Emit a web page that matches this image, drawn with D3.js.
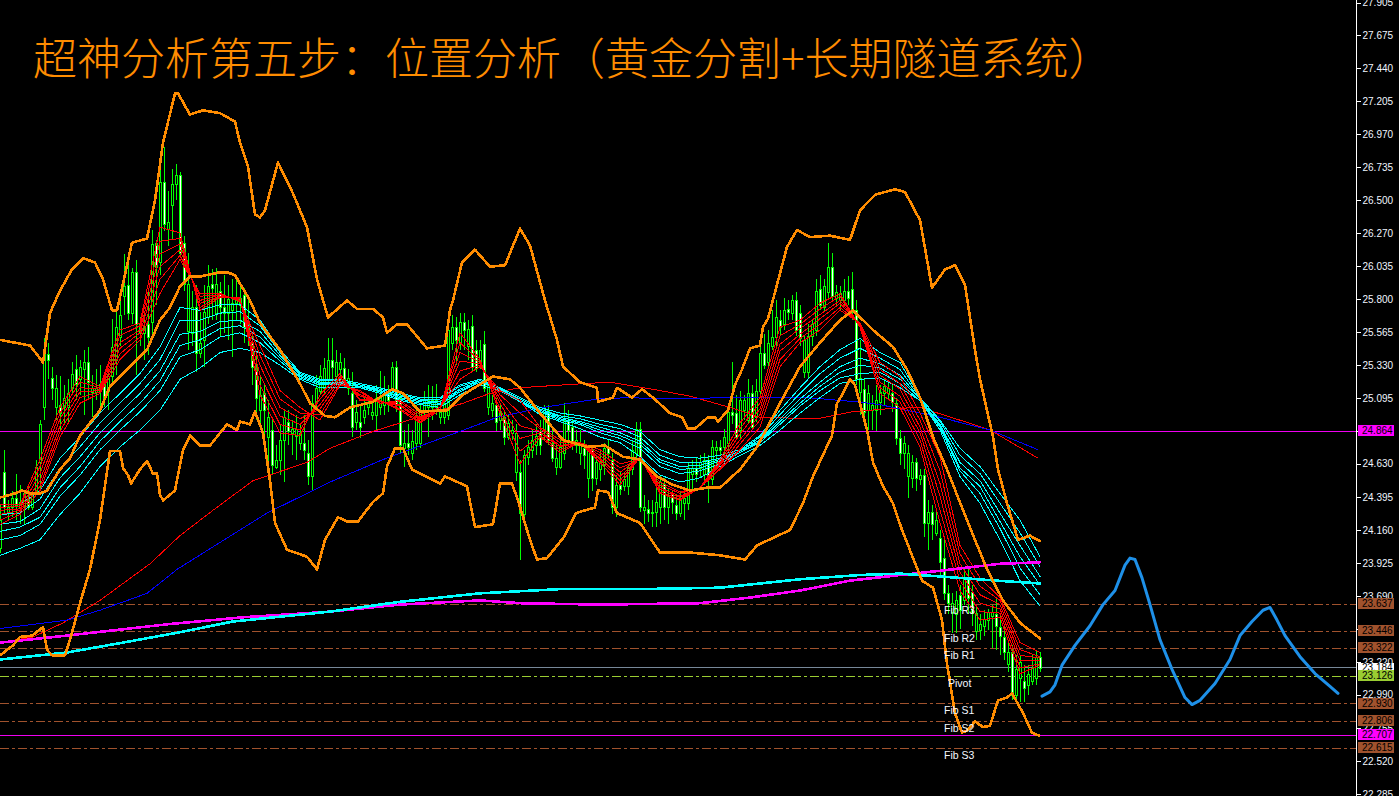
<!DOCTYPE html>
<html><head><meta charset="utf-8">
<script src="https://cdn.jsdelivr.net/npm/d3@7"></script>
<style>html,body{margin:0;padding:0;background:#000;overflow:hidden}svg{display:block}</style>
</head><body><svg id="c" width="1399" height="796"></svg>
<script>
const titleText="超神分析第五步：位置分析（黄金分割+长期隧道系统）";
const opens=[24.03,24.57,24.28,24.32,24.39,24.32,24.32,24.37,24.32,24.44,
24.64,25.03,25.41,25.24,25.03,25.05,25.03,25.03,25.17,25.30,
25.23,25.30,25.35,25.14,25.14,25.15,25.20,25.15,25.25,25.37,
25.53,25.82,25.90,25.70,25.99,25.63,25.56,25.62,25.64,26.20,
26.06,26.63,26.30,26.47,26.62,26.68,26.20,25.57,25.56,25.74,
25.42,25.51,25.67,25.91,25.70,25.86,25.74,25.70,25.72,25.77,
25.76,25.83,25.58,25.49,25.32,25.01,25.13,24.82,24.87,24.61,
24.66,24.80,24.93,24.85,24.83,24.78,24.78,24.71,24.54,25.06,
25.15,25.17,25.23,25.37,25.25,25.30,25.31,25.17,25.13,24.93,
24.93,24.96,25.03,24.98,24.98,25.03,25.05,25.14,25.17,25.32,
25.10,24.74,24.78,24.71,24.78,24.78,25.01,25.03,25.03,25.03,
24.96,24.96,24.98,25.49,25.60,25.49,25.64,25.47,25.61,25.44,
25.35,25.48,25.03,25.01,25.05,24.94,24.96,24.82,24.85,24.57,
24.57,24.27,24.68,24.73,24.76,24.86,24.86,25.01,24.78,24.61,
24.61,24.71,24.94,24.89,24.76,24.71,24.74,24.53,24.73,24.53,
24.59,24.62,24.75,24.66,24.32,24.48,24.47,24.47,24.59,24.71,
24.88,24.30,24.31,24.29,24.29,24.32,24.49,24.32,24.42,24.34,
24.28,24.35,24.35,24.56,24.60,24.60,24.56,24.66,24.52,24.73,
24.75,24.75,24.78,25.00,24.99,24.87,25.01,24.94,25.13,24.96,
25.15,25.42,25.35,25.47,25.53,25.65,25.62,25.73,25.70,25.79,
25.70,25.28,25.28,25.54,25.58,25.87,25.74,25.85,26.03,25.81,
25.79,25.79,25.86,25.87,25.72,25.14,25.16,25.01,25.01,25.01,
25.07,25.13,25.13,25.13,25.06,24.81,24.71,24.54,24.53,24.64,
24.52,24.55,24.21,24.29,24.14,24.10,23.96,23.71,23.58,23.56,
23.70,23.66,23.82,23.72,23.44,23.45,23.48,23.52,23.55,23.56,
23.47,23.40,23.21,23.29,22.99,23.11,23.09,23.06,23.09,23.11,23.26];
const highs=[24.34,24.73,24.37,24.44,24.56,24.48,24.44,24.48,24.44,24.66,
24.94,25.52,25.49,25.32,25.26,25.25,25.19,25.23,25.35,25.40,
25.37,25.44,25.46,25.26,25.30,25.33,25.26,25.30,25.66,25.72,
25.79,26.12,26.04,26.02,26.08,25.67,25.69,25.86,26.29,26.22,
26.75,26.88,26.57,26.72,26.76,26.70,26.25,26.13,25.86,25.90,
25.71,25.90,26.04,26.01,26.02,25.92,25.97,25.90,25.94,25.97,
25.90,25.88,25.79,25.56,25.40,25.26,25.19,25.08,24.94,24.76,
24.91,25.01,25.01,24.94,24.98,24.91,24.98,24.80,25.12,25.26,
25.33,25.38,25.52,25.52,25.44,25.42,25.38,25.30,25.28,25.08,
25.05,25.10,25.12,25.08,25.19,25.29,25.25,25.19,25.35,25.36,
25.14,24.87,24.91,24.87,25.05,25.05,25.15,25.19,25.18,25.20,
25.08,25.12,25.65,25.69,25.67,25.70,25.70,25.65,25.69,25.51,
25.51,25.57,25.24,25.12,25.10,25.05,25.01,24.98,24.94,24.91,
24.66,24.73,24.80,24.87,24.91,24.94,25.05,25.05,24.87,24.76,
24.80,25.06,25.01,24.94,24.87,24.87,24.80,24.76,24.76,24.69,
24.73,24.78,24.80,24.71,24.55,24.57,24.57,24.62,24.80,24.93,
24.93,24.41,24.37,24.37,24.52,24.55,24.53,24.46,24.44,24.41,
24.44,24.44,24.64,24.66,24.67,24.69,24.71,24.69,24.80,24.79,
24.80,24.88,25.05,25.35,25.12,25.15,25.12,25.23,25.19,25.23,
25.51,25.55,25.58,25.72,25.79,25.72,25.81,25.79,25.83,25.85,
25.76,25.54,25.62,25.65,25.94,25.97,25.94,26.20,26.13,25.90,
25.89,25.94,25.96,25.99,25.79,25.51,25.23,25.19,25.12,25.19,
25.19,25.23,25.21,25.19,25.10,24.87,24.83,24.76,24.69,24.67,
24.59,24.59,24.37,24.34,24.30,24.16,24.09,23.77,23.71,23.73,
23.77,23.88,23.88,23.77,23.63,23.56,23.59,23.60,23.63,23.68,
23.56,23.48,23.38,23.34,23.27,23.27,23.20,23.20,23.27,23.31,23.29];
const lows=[24.00,24.28,24.23,24.25,24.23,24.20,24.20,24.30,24.30,24.41,
24.44,24.94,25.23,25.08,24.94,24.87,24.91,24.91,25.12,25.08,
25.12,24.98,25.08,24.96,25.08,25.01,25.03,25.01,25.19,25.26,
25.47,25.69,25.65,25.62,25.26,25.47,25.37,25.40,25.51,25.76,
25.97,26.28,26.18,26.22,26.50,26.11,25.86,25.44,25.47,25.28,
25.38,25.32,25.62,25.65,25.65,25.54,25.56,25.51,25.39,25.65,
25.62,25.49,25.47,25.19,24.94,24.87,24.76,24.62,24.56,24.59,
24.55,24.50,24.76,24.69,24.66,24.73,24.66,24.48,24.44,25.01,
25.12,25.12,25.17,25.23,25.19,25.24,25.19,25.12,24.82,24.87,
24.81,24.91,24.98,24.94,24.87,24.98,24.98,25.00,25.12,25.00,
24.71,24.61,24.69,24.66,24.73,24.74,24.94,24.82,24.94,24.98,
24.91,24.91,24.94,25.44,25.33,25.44,25.44,25.37,25.28,25.28,
25.30,25.14,24.98,24.96,24.86,24.87,24.76,24.80,24.80,24.51,
23.95,24.23,24.62,24.67,24.69,24.69,24.80,24.76,24.64,24.55,
24.59,24.66,24.76,24.73,24.71,24.62,24.59,24.39,24.44,24.48,
24.51,24.55,24.66,24.27,24.25,24.41,24.44,24.41,24.55,24.66,
24.29,24.20,24.22,24.18,24.18,24.20,24.23,24.20,24.27,24.23,
24.25,24.23,24.30,24.44,24.50,24.53,24.48,24.35,24.48,24.59,
24.69,24.69,24.73,24.91,24.80,24.80,24.94,24.91,24.87,24.93,
25.12,25.30,25.30,25.44,25.47,25.54,25.58,25.65,25.65,25.54,
25.47,25.24,25.24,25.47,25.54,25.72,25.71,25.81,25.78,25.76,
25.72,25.74,25.76,25.65,25.19,24.98,24.94,24.87,24.87,24.86,
24.98,25.05,25.08,25.00,24.76,24.62,24.59,24.39,24.46,24.44,
24.48,24.11,24.02,24.09,24.12,23.84,23.66,23.56,23.43,23.43,
23.46,23.63,23.56,23.48,23.38,23.38,23.41,23.45,23.32,23.31,
23.27,23.24,23.15,22.95,22.95,22.94,22.94,22.99,23.06,23.06,23.15];
const closes=[24.23,24.32,24.32,24.39,24.34,24.36,24.42,24.32,24.43,24.61,
24.91,25.42,25.37,25.17,25.17,24.99,25.10,25.13,25.27,25.20,
25.32,25.35,25.21,25.17,25.17,25.20,25.10,25.25,25.46,25.60,
25.69,25.89,25.70,25.99,25.62,25.56,25.60,25.53,26.19,26.03,
26.63,26.33,26.35,26.62,26.68,26.13,25.91,25.91,25.74,25.42,
25.49,25.71,25.89,25.88,25.91,25.74,25.70,25.80,25.77,25.81,
25.81,25.60,25.63,25.32,25.10,25.12,25.01,24.96,24.62,24.66,
24.80,24.96,24.86,24.88,24.88,24.85,24.73,24.54,25.06,25.17,
25.25,25.31,25.37,25.32,25.35,25.35,25.23,25.24,24.89,25.00,
24.89,25.01,25.06,25.00,25.10,25.10,25.12,25.08,25.32,25.05,
24.76,24.78,24.75,24.79,24.98,25.00,25.08,25.08,25.08,25.08,
25.00,25.06,25.58,25.60,25.51,25.64,25.58,25.59,25.32,25.31,
25.44,25.17,25.20,25.06,24.93,24.99,24.82,24.92,24.87,24.85,
24.28,24.69,24.75,24.80,24.83,24.76,25.01,24.80,24.67,24.67,
24.75,24.94,24.87,24.76,24.80,24.78,24.69,24.73,24.53,24.64,
24.64,24.74,24.71,24.32,24.48,24.45,24.52,24.60,24.73,24.88,
24.32,24.32,24.28,24.28,24.36,24.50,24.32,24.41,24.36,24.28,
24.39,24.39,24.60,24.60,24.56,24.64,24.66,24.55,24.75,24.75,
24.73,24.82,25.00,24.98,24.82,25.08,25.08,25.13,24.89,25.15,
25.42,25.33,25.49,25.53,25.67,25.60,25.72,25.71,25.79,25.58,
25.52,25.51,25.54,25.62,25.86,25.76,25.89,26.03,25.82,25.85,
25.84,25.86,25.81,25.72,25.23,25.24,25.00,25.13,25.05,25.08,
25.14,25.18,25.17,25.07,24.81,24.71,24.78,24.71,24.64,24.53,
24.55,24.21,24.29,24.20,24.23,23.93,23.71,23.64,23.64,23.66,
23.59,23.82,23.68,23.57,23.57,23.49,23.53,23.58,23.58,23.48,
23.41,23.29,23.29,22.99,23.17,23.22,23.04,23.14,23.18,23.26,23.18];

const upperBars=[0,7.5,10.75,12.5,15,18,20.75,23.75,25.75,28,29.25,30.75,33,36.75,38.75,40.75,43.75,44.5,47.5,50.75,55,58.75,60,62,63.75,65,66.25,69.5,73.25,76.75,79.25,82,86.75,89.25,93.25,95.75,96.75,99.25,101.75,106.75,111.25,112.5,113.25,115.5,118.75,122.5,126.25,130,132.5,136.25,139.25,140.75,145,149.25,149.5,153.25,154.25,158,160.5,163.25,167.5,170.5,172,173.75,177,178.75,179.5,182,183.75,185.5,187.5,190,190.75,192,196.75,199.25,202.5,207.5,212.5,215,218.75,223.75,226.25,230,233,236.25,238.75,241.25,243.75,245,248.25,249.5,251.75,254.5,257.5,260];
const upperVals=[25.51,25.47,25.35,25.70,25.86,26.01,26.09,26.06,25.94,25.72,25.72,25.91,26.20,26.23,26.50,26.91,27.26,27.26,27.11,27.14,27.12,27.06,26.91,26.74,26.40,26.38,26.43,26.77,26.55,26.31,25.94,25.67,25.79,25.73,25.73,25.67,25.56,25.62,25.62,25.45,25.47,25.72,25.79,26.06,26.15,26.03,26.04,26.30,26.18,25.79,25.51,25.32,25.21,25.17,25.07,25.10,25.17,25.10,25.16,25.10,24.99,24.96,24.88,24.88,24.96,24.96,24.93,25.01,25.19,25.30,25.45,25.47,25.60,25.66,26.17,26.29,26.24,26.25,26.22,26.43,26.54,26.58,26.56,26.36,25.88,26.01,26.04,25.90,25.44,25.23,24.82,24.59,24.35,24.09,24.12,24.08];
const midBars=[0,3.75,5.5,7.5,10,11.75,15,17.5,20,25,27.5,31.75,36.75,40,42.5,45,47.5,50,55,56.75,58.75,62.5,65,70,75,77.5,81.25,83.75,87.5,93.25,98,100.75,105,111.75,115.75,123.25,127.5,130,135,140.75,146.75,151.25,155.75,160,164.25,168.25,172.5,176.75,180,185,189.25,195,200,205,210,213.25,218.25,223.25,226.75,230,233.25,236.75,241.75,246.75,250.75,255,260];
const midVals=[24.39,24.42,24.44,24.42,24.42,24.44,24.59,24.67,24.83,25.01,25.18,25.30,25.44,25.65,25.74,25.89,25.96,25.96,25.99,25.99,25.97,25.79,25.63,25.44,25.20,25.06,24.97,24.96,25.03,25.07,25.16,25.13,25.00,25.01,25.12,25.25,25.23,25.17,24.99,24.80,24.75,24.76,24.68,24.66,24.54,24.48,24.44,24.46,24.46,24.59,24.75,25.06,25.32,25.49,25.65,25.72,25.58,25.46,25.30,25.10,24.82,24.59,24.23,23.88,23.66,23.50,23.39];
const lowerBars=[0,3.25,5,8,10.75,11.75,13,16.25,17.5,20,22.5,25,27.5,30,30.75,32,32.75,35,36.75,38.25,39.25,40,40.75,42.5,43.75,45.75,47.5,50,52.5,56.75,59.25,60,62.5,63.75,65.75,67.5,68.75,71.75,76.75,79.25,81.25,84.5,86.75,89.5,93.25,95.75,96.75,98.75,100.75,103,110,111.25,116.75,118.75,123.25,125,128,129.5,132.5,134.25,136.75,141,144,148.75,149.5,152,154.25,160,165,172.5,180,186.25,189.25,197.5,200.75,203.25,208,209.25,210.75,212.5,213.75,216.75,218.25,220.75,223.25,225.5,230.5,233.25,235.5,236.75,238.75,240.5,242,243.75,245.75,247.5,249.5,251.75,253,255.75,258,259.75];
const lowerVals=[23.27,23.34,23.40,23.41,23.47,23.31,23.27,23.27,23.38,23.64,23.88,24.23,24.72,24.72,24.60,24.55,24.49,24.59,24.65,24.56,24.56,24.41,24.37,24.41,24.44,24.73,24.83,24.76,24.76,24.91,24.87,24.93,24.91,25.00,24.85,24.51,24.21,24.02,23.97,23.88,24.09,24.25,24.22,24.22,24.36,24.42,24.61,24.74,24.74,24.59,24.49,24.54,24.47,24.18,24.20,24.49,24.49,24.37,24.09,23.95,23.96,24.11,24.28,24.32,24.44,24.43,24.28,24.21,24.00,24.00,23.98,23.95,24.05,24.16,24.35,24.54,24.83,25.06,25.13,25.23,25.19,24.87,24.64,24.47,24.35,24.16,23.80,23.75,23.52,23.21,22.86,22.72,22.74,22.80,22.76,22.77,22.95,22.97,23.00,22.86,22.72,22.70];
const longRedBars=[0,8.25,15.75,25,37.5,45,53.25,63.25,76.75,82.5,93.25,100,115.75,122.5,130,140.75,152.5,165,172.5,182.5,190,204.25,213.25,221.75,230,240,247.5,259.5];
const longRedVals=[23.36,23.40,23.50,23.66,23.92,24.12,24.30,24.51,24.64,24.74,24.86,24.92,25.06,25.13,25.17,25.19,25.21,25.15,25.11,25.03,24.96,24.95,25.00,25.02,25.03,24.94,24.87,24.67];
const longBlueBars=[0,16.75,25,36.75,44.25,53.25,66.75,82.5,95.75,115,124.25,135.75,149.25,157.5,165,182.5,201.75,214.25,220,230,235,247.5,259.5];
const longBlueVals=[23.46,23.52,23.59,23.71,23.88,24.04,24.28,24.50,24.66,24.86,24.96,25.03,25.09,25.10,25.09,25.10,25.10,25.07,25.05,24.99,24.96,24.87,24.73];
const magentaBars=[0,16.75,41.75,60.75,82.5,100,120,130,150,175,187.5,200,212.5,225,235,250,260];
const magentaVals=[23.36,23.41,23.49,23.54,23.58,23.63,23.66,23.64,23.63,23.64,23.68,23.73,23.80,23.84,23.87,23.92,23.93];
const thickCyanBars=[0,16.75,30.75,44.25,58.25,82.5,100,120,140,160,180,200,215,225,235,249.25,260];
const thickCyanVals=[23.24,23.29,23.36,23.43,23.51,23.58,23.65,23.71,23.74,23.74,23.75,23.81,23.84,23.85,23.83,23.80,23.78];
const sketchBars=[260.5,262.5,263.75,265.5,268.75,272.5,275.75,278.75,281.25,282.5,283.75,285.5,287.5,290,293,296.25,298,300,303.75,307.5,310,313,315.75,317.5,319.25,321.25,325,328.75,332.5,334.5];
const sketchVals=[22.98,23.01,23.06,23.20,23.34,23.48,23.63,23.73,23.91,23.96,23.95,23.82,23.63,23.38,23.17,22.97,22.92,22.95,23.07,23.24,23.41,23.51,23.59,23.61,23.52,23.41,23.26,23.14,23.05,23.00];

const fanBars=[0,5,10,15,20,25,30,35,40,45,50,55,60,65,70,75,80,85,90,95,100,105,110,115,120,125,130,135,140,145,150,155,160,165,170,175,180,185,190,195,200,205,210,215,220,225,230,235,240,245,250,255,260];
const cyan1=[24.34,24.34,24.44,24.67,24.82,24.99,25.13,25.27,25.46,25.74,25.72,25.76,25.76,25.65,25.44,25.28,25.23,25.23,25.20,25.17,25.13,25.10,25.10,25.19,25.23,25.17,25.10,25.03,24.99,24.97,24.94,24.91,24.86,24.73,24.68,24.67,24.69,24.73,24.83,25.01,25.17,25.32,25.44,25.52,25.42,25.35,25.10,24.94,24.74,24.61,24.42,24.23,23.97];
const cyan2=[24.27,24.28,24.38,24.60,24.75,24.92,25.06,25.20,25.37,25.65,25.65,25.70,25.71,25.61,25.42,25.27,25.22,25.22,25.19,25.16,25.12,25.09,25.09,25.18,25.22,25.16,25.09,25.02,24.97,24.95,24.91,24.88,24.82,24.69,24.64,24.64,24.67,24.72,24.82,24.98,25.13,25.27,25.38,25.45,25.38,25.30,25.10,24.93,24.69,24.56,24.35,24.14,23.90];
const cyan3=[24.20,24.22,24.31,24.53,24.68,24.85,24.99,25.13,25.29,25.55,25.57,25.64,25.65,25.57,25.40,25.26,25.21,25.21,25.19,25.15,25.11,25.08,25.07,25.16,25.22,25.16,25.09,25.02,24.96,24.93,24.89,24.85,24.79,24.66,24.61,24.62,24.66,24.72,24.80,24.95,25.09,25.21,25.32,25.38,25.34,25.26,25.09,24.91,24.64,24.51,24.28,24.05,23.83];
const cyan4=[24.15,24.18,24.25,24.46,24.61,24.79,24.93,25.06,25.22,25.47,25.51,25.59,25.61,25.53,25.38,25.25,25.20,25.20,25.18,25.15,25.10,25.07,25.06,25.15,25.21,25.16,25.08,25.01,24.95,24.92,24.87,24.83,24.77,24.64,24.59,24.60,24.65,24.71,24.79,24.93,25.06,25.18,25.28,25.33,25.31,25.23,25.09,24.90,24.60,24.47,24.22,23.97,23.77];
const cyan5=[24.09,24.12,24.20,24.40,24.55,24.73,24.87,25.00,25.15,25.39,25.44,25.53,25.56,25.49,25.36,25.24,25.19,25.19,25.18,25.14,25.09,25.06,25.05,25.14,25.21,25.16,25.07,25.00,24.94,24.91,24.85,24.81,24.74,24.61,24.56,24.58,24.63,24.71,24.78,24.91,25.04,25.15,25.24,25.27,25.28,25.20,25.08,24.89,24.58,24.42,24.17,23.89,23.70];
const cyan6=[23.98,24.03,24.09,24.27,24.42,24.61,24.75,24.87,25.01,25.23,25.31,25.42,25.45,25.42,25.33,25.23,25.17,25.17,25.17,25.13,25.08,25.05,25.03,25.12,25.19,25.15,25.07,24.98,24.93,24.88,24.82,24.78,24.68,24.55,24.50,24.53,24.61,24.69,24.76,24.87,24.99,25.10,25.20,25.23,25.24,25.17,25.08,24.87,24.54,24.35,24.09,23.80,23.62];
const red1=[24.34,24.34,24.66,25.03,25.25,25.18,25.58,25.63,26.31,26.27,25.72,25.81,25.81,25.12,24.85,24.83,25.12,25.27,25.08,25.08,25.01,24.92,25.01,25.56,25.37,24.99,24.63,24.82,24.71,24.78,24.64,24.48,24.68,24.42,24.37,24.46,24.66,24.92,25.10,25.60,25.65,25.77,25.84,25.60,25.13,25.03,24.75,24.21,23.73,23.52,23.54,23.14,23.20];
const red2=[24.32,24.33,24.61,24.99,25.21,25.17,25.54,25.61,26.21,26.23,25.74,25.82,25.80,25.19,24.91,24.87,25.09,25.25,25.09,25.08,25.02,24.93,25.02,25.49,25.36,25.02,24.72,24.83,24.73,24.78,24.66,24.51,24.68,24.43,24.38,24.46,24.64,24.88,25.06,25.54,25.62,25.73,25.82,25.60,25.17,25.07,24.80,24.30,23.80,23.58,23.57,23.18,23.21];
const red3=[24.30,24.31,24.56,24.95,25.17,25.16,25.49,25.58,26.12,26.19,25.77,25.82,25.80,25.26,24.97,24.91,25.05,25.24,25.11,25.07,25.04,24.94,25.02,25.42,25.35,25.06,24.81,24.85,24.75,24.78,24.67,24.54,24.67,24.45,24.39,24.46,24.63,24.84,25.02,25.48,25.59,25.69,25.79,25.61,25.21,25.11,24.85,24.40,23.86,23.64,23.60,23.23,23.23];
const red4=[24.27,24.30,24.51,24.90,25.14,25.15,25.45,25.56,26.03,26.15,25.79,25.83,25.79,25.33,25.03,24.95,25.02,25.22,25.12,25.07,25.05,24.95,25.02,25.36,25.34,25.09,24.90,24.86,24.76,24.78,24.69,24.57,24.67,24.46,24.40,24.46,24.62,24.80,24.98,25.43,25.55,25.66,25.77,25.61,25.26,25.16,24.89,24.49,23.92,23.70,23.63,23.27,23.25];
const red5=[24.23,24.29,24.47,24.86,25.10,25.14,25.41,25.53,25.94,26.11,25.82,25.83,25.79,25.40,25.09,24.99,24.98,25.20,25.14,25.06,25.07,24.96,25.02,25.29,25.33,25.12,24.99,24.88,24.78,24.78,24.71,24.60,24.66,24.48,24.42,24.46,24.60,24.77,24.94,25.37,25.52,25.62,25.74,25.62,25.30,25.20,24.94,24.58,23.99,23.76,23.66,23.31,23.26];
const red6=[24.20,24.27,24.44,24.82,25.06,25.13,25.37,25.51,25.84,26.08,25.84,25.84,25.78,25.47,25.15,25.03,24.94,25.19,25.15,25.06,25.08,24.98,25.03,25.23,25.32,25.15,25.08,24.89,24.80,24.78,24.73,24.63,24.66,24.50,24.43,24.46,24.59,24.73,24.89,25.32,25.49,25.58,25.72,25.63,25.35,25.25,24.99,24.68,24.05,23.82,23.68,23.36,23.29];

const tickLabels=["27.905","27.675","27.440","27.205","26.970","26.735","26.500","26.270","26.035","25.800","25.565","25.330","25.095","24.865","24.630","24.395","24.160","23.925","23.690","23.455","23.220","22.990","22.755","22.520","22.285"];
const levelPrices=[23.637,23.446,23.322,23.184,23.126,22.930,22.806,22.615];
const levelNames=["Fib R3","Fib R2","Fib R1","","Pivot","Fib S1","Fib S2","Fib S3"];
const levelColors=["#a0522d","#a0522d","#a0522d","#778899","#9acd32","#a0522d","#a0522d","#a0522d"];
const tagFills=["#a0522d","#a0522d","#a0522d","#ffffff","#9acd32","#a0522d","#a0522d","#a0522d"];
const markPrices=[24.864,22.707];

const svg=d3.select("#c");
const W=1399,H=796,axisX=1356,plotEnd=1040;
const x=d3.scaleLinear().domain([0,260]).range([0,plotEnd]);
const y=d3.scaleLinear().domain([27.675,22.285]).range([35,794]);
const sans="'Liberation Sans',Arial,sans-serif";
svg.append("rect").attr("width",W).attr("height",H).attr("fill","#000");
const gDots=svg.append("g");

// horizontal levels
levelPrices.forEach((p,i)=>{
  const yy=Math.round(y(p))+.5;
  const l=svg.append("line").attr("x1",0).attr("x2",axisX).attr("y1",yy).attr("y2",yy)
    .attr("stroke",levelColors[i]).attr("stroke-width",1).attr("shape-rendering","crispEdges");
  if(i!==3) l.attr("stroke-dasharray","9,3,3,3");
});
markPrices.forEach(p=>{
  const yy=Math.round(y(p))+.5;
  svg.append("line").attr("x1",0).attr("x2",axisX).attr("y1",yy).attr("y2",yy)
    .attr("stroke","#f000f0").attr("shape-rendering","crispEdges");
});

// candles
const bars=d3.range(opens.length);
const gC=svg.append("g").attr("shape-rendering","crispEdges");
gC.selectAll("line").data(bars).join("line")
  .attr("x1",i=>x(i)+.5).attr("x2",i=>x(i)+.5)
  .attr("y1",i=>Math.round(y(highs[i]))).attr("y2",i=>Math.round(y(lows[i])))
  .attr("stroke","#00ff00");
gC.selectAll("rect").data(bars).join("rect")
  .attr("x",i=>x(i)-.5).attr("width",2)
  .attr("y",i=>Math.round(y(Math.max(opens[i],closes[i])))+.5)
  .attr("height",i=>Math.max(1,Math.round(y(Math.min(opens[i],closes[i])))-Math.round(y(Math.max(opens[i],closes[i])))))
  .attr("fill",i=>closes[i]<opens[i]?"#ffffff":"#000000")
  .attr("stroke","#00ff00");

function drawLine(bx,vals,color,width,crisp=true){
  const gen=d3.line().x((d,i)=>x(bx[i])).y(d=>y(d));
  svg.append("path").datum(vals).attr("d",gen).attr("fill","none")
    .attr("stroke",color).attr("stroke-width",width)
    .attr("stroke-linejoin","round").attr("stroke-linecap","round")
    .attr("shape-rendering",crisp?"crispEdges":"auto");
}
drawLine(longRedBars,longRedVals,"#ff0000",1);
drawLine(longBlueBars,longBlueVals,"#0000ff",1);
[cyan1,cyan2,cyan3,cyan4,cyan5,cyan6].forEach(s=>drawLine(fanBars,s,"#00ffff",1));
[red6,red5,red4,red3,red2,red1].forEach(s=>drawLine(fanBars,s,"#ff0000",1));
drawLine(magentaBars,magentaVals,"#ff00ff",2.6);
drawLine(thickCyanBars,thickCyanVals,"#00ffff",2.6);
drawLine(upperBars,upperVals,"#ff8c00",2.6);
drawLine(midBars,midVals,"#ff8c00",2.6);
drawLine(lowerBars,lowerVals,"#ff8c00",2.6);
drawLine(sketchBars,sketchVals,"#1e90e8",3,false);

// level names
const fibX=[944,944,944,0,948,944,944,944];
const fibY=[610,638,655,0,683,710,728,755];
levelNames.forEach((n,i)=>{ if(!n) return;
  svg.append("text").attr("x",fibX[i]).attr("y",fibY[i]).attr("dy","0.35em")
    .attr("fill","#f4f8ff").attr("font-family",sans).attr("font-size",10.5).text(n);
});

// title
svg.append("text").attr("x",33).attr("y",75).attr("fill","#ff8c00")
  .attr("font-family","'Noto Sans CJK SC'").attr("font-weight",300).attr("font-size",44).text(titleText);

// axis
const axis=d3.axisRight(y).tickValues(tickLabels.map(Number)).tickSize(4).tickPadding(2)
  .tickFormat((d,i)=>tickLabels[i]);
const gA=svg.append("g").attr("transform",`translate(${axisX+.5},0)`).call(axis);
gA.select(".domain").attr("d",`M0,0V${H}`).attr("stroke","#fff").attr("shape-rendering","crispEdges");
gA.selectAll(".tick line").attr("stroke","#fff").attr("shape-rendering","crispEdges");
gA.selectAll(".tick text").attr("fill","#f0f6ff").attr("font-family",sans).attr("font-size",10);

// price tags
function tag(p,fill,h){
  const yc=y(p);
  svg.append("rect").attr("x",1358).attr("y",yc-h/2).attr("width",36).attr("height",h)
    .attr("fill",fill).attr("shape-rendering","crispEdges");
  svg.append("text").attr("x",1362).attr("y",yc).attr("dy","0.35em").attr("fill","#000")
    .attr("font-family",sans).attr("font-size",10).text(p.toFixed(3));
}
levelPrices.forEach((p,i)=>tag(p,tagFills[i],i===3?9:11));
tag(markPrices[0],"#ff00ff",11);
tag(markPrices[1],"#ff00ff",11);
</script></body></html>
